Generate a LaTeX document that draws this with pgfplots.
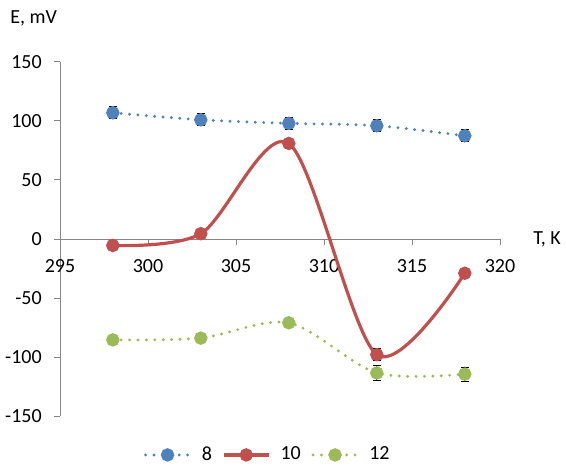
\documentclass[border=0pt]{standalone}
\usepackage{fontspec}
\setmainfont{Carlito}
\usepackage{pgfplots}
\pgfplotsset{compat=1.18}
\definecolor{sBlue}{HTML}{4F81BD}
\definecolor{sRed}{HTML}{C0504D}
\definecolor{sGreen}{HTML}{9BBB59}
\definecolor{axgray}{HTML}{868686}
\begin{document}
\fontsize{15pt}{18pt}\selectfont
\begin{tikzpicture}[x=0.75pt,y=0.75pt]
\path[use as bounding box] (0,0) rectangle (566,467);
\begin{axis}[
  at={(45pt,38.25pt)}, anchor=south west,
  scale only axis, width=330pt, height=265.5pt,
  xmin=295, xmax=320, ymin=-150, ymax=150,
  axis x line=middle, axis y line=left,
  hide obscured x ticks=false,
  axis line style={-, axgray, line width=0.75pt},
  xtick={295,300,...,320}, ytick={-150,-100,...,150},
  tick align=outside,
  major tick length=4.5pt,
  tick style={axgray, line width=0.75pt},
  every tick label/.append style={font=\fontsize{15pt}{18pt}\selectfont},
  /pgf/number format/assume math mode=true,
  xticklabel style={anchor=center, yshift=-16pt},
  yticklabel style={anchor=east, xshift=-4pt},
  legend style={at={(0.473,-0.110)}, anchor=center, draw=none, fill=none,
    font=\fontsize{15pt}{18pt}\selectfont, column sep=6pt},
  legend columns=3,
  legend image code/.code={\draw[mark repeat=2,mark phase=2,#1] plot coordinates {(0pt,0pt) (16.5pt,0pt) (33pt,0pt)};},
  clip=false,
]
\addplot[sBlue, line width=2.4pt, dash pattern=on 0pt off 6.3pt, line cap=round, smooth,
  mark=*, mark size=3.8pt, mark options={solid, fill=sBlue, draw=sBlue},
  error bars/.cd, y dir=both, y explicit,
  error bar style={solid, black, line width=0.75pt},
  error mark options={rotate=90, mark size=3pt, black, line width=0.75pt, solid}]
  coordinates {
  (298,107) +- (0,5)
  (303,101) +- (0,5)
  (308,98) +- (0,5)
  (313,96) +- (0,5)
  (318,87.5) +- (0,5)
};
\addlegendentry{8}
\addplot[sRed, line width=2.4pt, smooth,
  mark=*, mark size=3.8pt, mark options={solid, fill=sRed, draw=sRed},
  error bars/.cd, y dir=both, y explicit,
  error bar style={solid, black, line width=0.75pt},
  error mark options={rotate=90, mark size=3pt, black, line width=0.75pt, solid}]
  coordinates {
  (298,-5.5) +- (0,2)
  (303,4.5) +- (0,2)
  (308,81) +- (0,4)
  (313,-98) +- (0,5)
  (318,-29) +- (0,2)
};
\addlegendentry{10}
\addplot[sGreen, line width=2.4pt, dash pattern=on 0pt off 6.3pt, line cap=round, smooth,
  mark=*, mark size=3.8pt, mark options={solid, fill=sGreen, draw=sGreen},
  error bars/.cd, y dir=both, y explicit,
  error bar style={solid, black, line width=0.75pt},
  error mark options={rotate=90, mark size=3pt, black, line width=0.75pt, solid}]
  coordinates {
  (298,-85.5) +- (0,4)
  (303,-84) +- (0,4)
  (308,-71) +- (0,4)
  (313,-113.5) +- (0,6)
  (318,-114.5) +- (0,6)
};
\addlegendentry{12}
\end{axis}
\node[anchor=west, inner sep=0pt] at (10,449) {E, mV};
\node[anchor=west, inner sep=0pt] at (533,228) {T, K};
\end{tikzpicture}
\end{document}
